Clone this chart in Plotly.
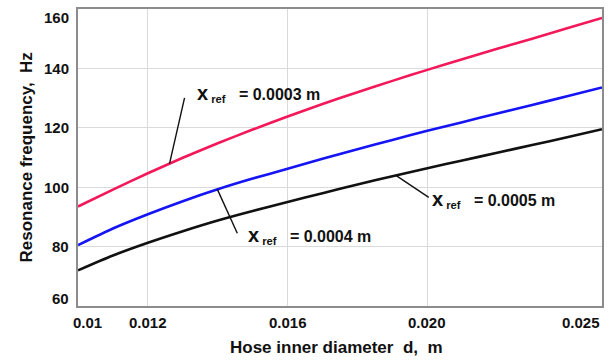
import numpy as np
import plotly.graph_objects as go

# Hose inner diameter, m
diameter = [0.010, 0.011, 0.012, 0.013, 0.014, 0.015, 0.016, 0.017,
            0.018, 0.019, 0.020, 0.021, 0.022, 0.023, 0.024, 0.025]

# Resonance frequency (Hz) for three reference displacements
f_x0003 = [93.5, 99.2, 104.7, 109.9, 114.8, 119.4, 123.8, 128.0,
           132.0, 135.8, 139.5, 143.1, 146.6, 150.0, 153.5, 157.0]
f_x0004 = [80.5, 86.1, 90.9, 95.3, 99.3, 102.9, 106.2, 109.6,
           112.8, 115.9, 119.0, 121.9, 124.8, 127.7, 130.6, 133.6]
f_x0005 = [72.0, 77.0, 81.3, 85.2, 88.8, 92.0, 95.0, 98.0,
           100.9, 103.7, 106.4, 109.0, 111.6, 114.2, 116.8, 119.5]

x_ticks = [0.010, 0.012, 0.016, 0.020, 0.025]
x_tick_text = ["0.01", "0.012", "0.016", "0.020", "0.025"]
y_ticks = [60, 80, 100, 120, 140, 160]

series = [
    ("0.0003", f_x0003, "#f2185a"),
    ("0.0004", f_x0004, "#1414f5"),
    ("0.0005", f_x0005, "#111111"),
]

# label placement: (curve point d, leader tail d, tail f, text d, text f)
label_pos = {
    "0.0003": (0.01262, 0.01305, 130.1, 0.01334, 131.6),
    "0.0004": (0.01399, 0.01456, 84.5, 0.01482, 83.6),
    "0.0005": (0.01910, 0.02004, 96.6, 0.02009, 95.7),
}

FONT = "Liberation Sans, Arial, sans-serif"

fig = go.Figure()
for name, vals, color in series:
    fig.add_trace(go.Scatter(
        x=diameter, y=vals, mode="lines", name=name,
        line=dict(color=color, width=2.6, shape="spline", smoothing=0.6),
        showlegend=False, hoverinfo="skip",
    ))

annotations = []
shapes = []
for name, vals, color in series:
    d_pt, d_tail, f_tail, d_txt, f_txt = label_pos[name]
    f_pt = float(np.interp(d_pt, diameter, vals))
    shapes.append(dict(type="line", xref="x", yref="y",
                       x0=d_tail, y0=f_tail, x1=d_pt, y1=f_pt,
                       line=dict(color="#111111", width=1.4)))
    annotations.append(dict(
        x=d_txt, y=f_txt, xref="x", yref="y", xanchor="left", yanchor="middle",
        showarrow=False,
        text=("<b><span style='font-size:20px'>x</span>"
              "<sub>\u00a0ref</sub>\u00a0\u00a0 = " + name + " m</b>"),
        font=dict(family=FONT, size=16, color="#111111"),
    ))

# x tick labels, kept inside the plot width at both ends
for i, (v, t) in enumerate(zip(x_ticks, x_tick_text)):
    anchor = "right" if i == len(x_ticks) - 1 else "center"
    annotations.append(dict(
        x=v, y=0, xref="x", yref="paper", xanchor=anchor, yanchor="top",
        yshift=-6, xshift=(9 if i == 0 else 0), showarrow=False,
        text="<b>" + t + "</b>", font=dict(family=FONT, size=15, color="#111111"),
    ))

# y tick labels, end labels nudged inside the frame
for v in y_ticks:
    shift = -8 if v == y_ticks[-1] else (8 if v == y_ticks[0] else 0)
    annotations.append(dict(
        x=0, y=v, xref="paper", yref="y", xanchor="right", yanchor="middle",
        xshift=-7, yshift=shift, showarrow=False,
        text="<b>" + str(v) + "</b>", font=dict(family=FONT, size=15, color="#111111"),
    ))

# axis titles
annotations.append(dict(
    x=0.0174, y=0, xref="x", yref="paper", xanchor="center", yanchor="top",
    yshift=-30, showarrow=False,
    text="<b>Hose inner diameter\u00a0 d,\u00a0 m</b>",
    font=dict(family=FONT, size=17, color="#111111"),
))
annotations.append(dict(
    x=0, y=0.5, xref="paper", yref="paper", xanchor="center", yanchor="middle",
    xshift=-52, yshift=0, textangle=-90, showarrow=False,
    text="<b>Resonance frequency,\u00a0 Hz</b>",
    font=dict(family=FONT, size=17, color="#111111"),
))

fig.update_layout(
    width=611, height=360,
    margin=dict(l=78, r=7, t=8, b=54),
    paper_bgcolor="white", plot_bgcolor="white",
    annotations=annotations, shapes=shapes,
    xaxis=dict(range=[0.010, 0.025], tickvals=x_ticks, showticklabels=False,
               showgrid=True, gridcolor="#dadada", gridwidth=1,
               showline=True, linecolor="#8c8c8c", linewidth=1.5, mirror=True,
               zeroline=False, ticks=""),
    yaxis=dict(range=[60, 160], tickvals=y_ticks, showticklabels=False,
               showgrid=True, gridcolor="#dadada", gridwidth=1,
               showline=True, linecolor="#8c8c8c", linewidth=1.5, mirror=True,
               zeroline=False, ticks=""),
)

fig.write_html("out.html")
